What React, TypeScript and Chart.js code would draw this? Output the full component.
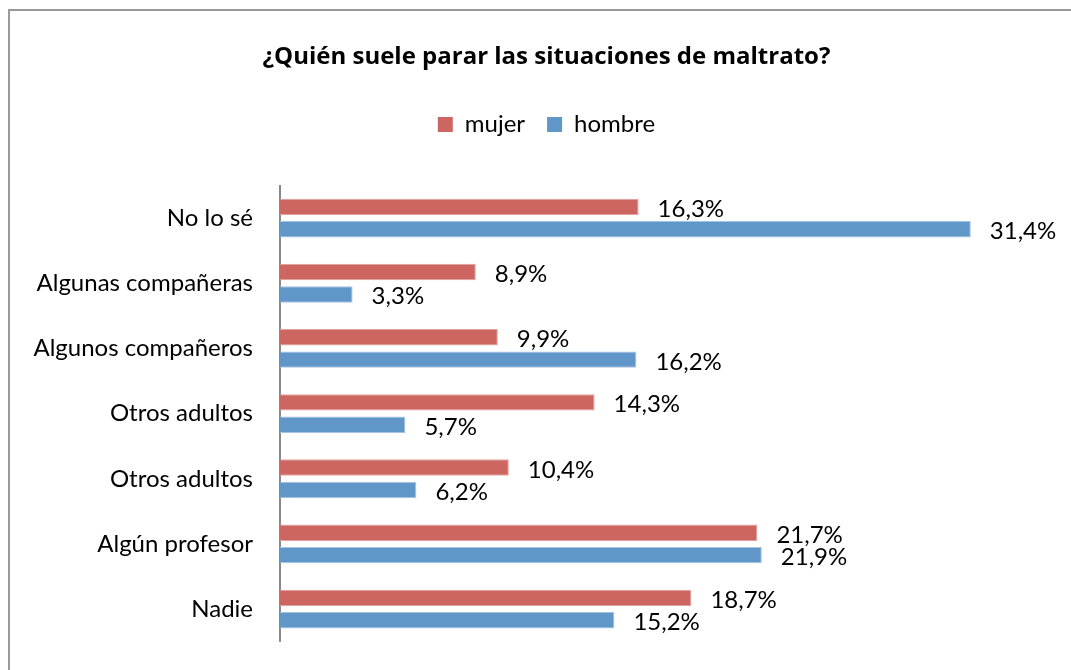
import React, { useEffect, useRef } from 'react';
import { Chart, registerables } from 'chart.js';

Chart.register(...registerables);

const TITLE = '¿Quién suele parar las situaciones de maltrato?';
const HEADING_ABOVE = 'maltrato.';
const categories = [
  'No lo sé',
  'Algunas compañeras',
  'Algunos compañeros',
  'Otros adultos',
  'Otros adultos',
  'Algún profesor',
  'Nadie',
];
const seriesNames = ['mujer', 'hombre'];
const mujer = [16.3, 8.9, 9.9, 14.3, 10.4, 21.7, 18.7];
const hombre = [31.4, 3.3, 16.2, 5.7, 6.2, 21.9, 15.2];

const FONT = 'Lato';
const TITLE_FONT = '"Open Sans"';
const MUJER_COLOR = '#CD6661';
const MUJER_EDGE = '#E0A3A0';
const HOMBRE_COLOR = '#6196C9';
const HOMBRE_EDGE = '#A6C3E2';

const formatValue = (v: number) => v.toFixed(1).replace('.', ',') + '%';

const valueLabels = {
  id: 'valueLabels',
  afterDatasetsDraw(chart: any) {
    const { ctx } = chart;
    ctx.save();
    ctx.font = `24px ${FONT}`;
    ctx.fillStyle = '#000';
    ctx.textAlign = 'left';
    ctx.textBaseline = 'alphabetic';
    chart.data.datasets.forEach((ds: any, di: number) => {
      const meta = chart.getDatasetMeta(di);
      meta.data.forEach((bar: any, i: number) => {
        ctx.fillText(formatValue(ds.data[i]), bar.x + 19, bar.y + 10);
      });
    });
    ctx.restore();
  },
};

const legendGap = {
  id: 'legendGap',
  beforeInit(chart: any) {
    const legend = chart.legend;
    if (!legend) return;
    const origFit = legend.fit;
    legend.fit = function () {
      origFit.call(this);
      this.height += 39;
    };
  },
};

export default function App() {
  const ref = useRef<HTMLCanvasElement>(null);

  useEffect(() => {
    if (!ref.current) return;
    const chart = new Chart(ref.current, {
      type: 'bar',
      data: {
        labels: categories,
        datasets: [
          {
            label: seriesNames[0],
            data: mujer,
            backgroundColor: MUJER_COLOR,
            borderColor: MUJER_EDGE,
            borderWidth: 1,
            categoryPercentage: 0.688,
            barPercentage: 0.733,
          },
          {
            label: seriesNames[1],
            data: hombre,
            backgroundColor: HOMBRE_COLOR,
            borderColor: HOMBRE_EDGE,
            borderWidth: 1,
            categoryPercentage: 0.688,
            barPercentage: 0.733,
          },
        ],
      },
      options: {
        indexAxis: 'y',
        responsive: false,
        animation: false,
        layout: { padding: { top: 10, left: 2, right: 2, bottom: 28.3 } },
        scales: {
          x: { type: 'linear', min: 0, max: 36.5, display: false },
          y: {
            type: 'category',
            grid: { display: false, drawTicks: false },
            border: { display: true, color: '#898989', width: 2 },
            ticks: { color: '#000', font: { family: FONT, size: 24 }, padding: 27 },
            afterFit: (s: any) => {
              s.width = 270;
              s.paddingTop = 0;
              s.paddingBottom = 0;
            },
          },
        },
        plugins: {
          title: {
            display: true,
            text: TITLE,
            color: '#000',
            font: { family: TITLE_FONT, size: 24, weight: 'bold' },
            padding: { top: 32.3, bottom: 19.4 },
          },
          legend: {
            display: true,
            position: 'top',
            labels: {
              color: '#000',
              font: { family: FONT, size: 24 },
              boxWidth: 15,
              boxHeight: 15,
              padding: 22,
              generateLabels: (c: any) =>
                Chart.defaults.plugins.legend.labels
                  .generateLabels(c)
                  .map((l: any) => ({ ...l, lineWidth: 0 })),
            },
          },
          tooltip: { enabled: false },
        },
      } as any,
      plugins: [valueLabels, legendGap],
    });
    return () => chart.destroy();
  }, []);

  return (
    <div
      style={{
        position: 'absolute',
        left: 0,
        top: 0,
        width: 1071,
        height: 670,
        overflow: 'hidden',
        background: '#fff',
      }}
    >
      <div
        style={{
          position: 'absolute',
          left: 10,
          top: -27,
          font: 'bold 31px "Liberation Serif"',
          lineHeight: '31px',
          whiteSpace: 'nowrap',
        }}
      >
        {HEADING_ABOVE}
      </div>
      <div
        style={{
          position: 'absolute',
          left: 8,
          top: 9,
          width: 1120,
          height: 720,
          border: '2px solid #999',
          boxSizing: 'border-box',
        }}
      />
      <canvas
        ref={ref}
        width={1077}
        height={670}
        style={{ position: 'absolute', left: 8, top: 0, width: 1077, height: 670 }}
      />
    </div>
  );
}
